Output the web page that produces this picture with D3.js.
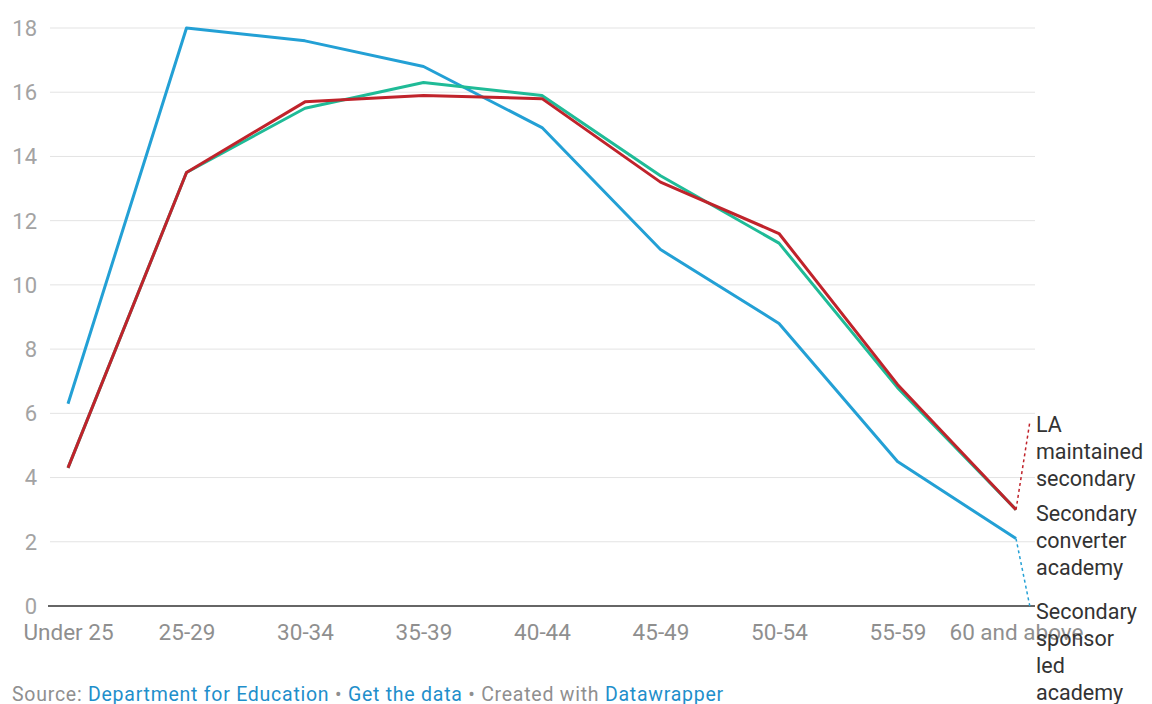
<!DOCTYPE html>
<html>
<head>
<meta charset="utf-8">
<script src="https://cdn.jsdelivr.net/npm/d3@7"></script>
<style>
  html, body { margin: 0; padding: 0; background: #fff; }
  svg { display: block; font-family: Roboto, "Noto Sans", sans-serif; }
</style>
</head>
<body>
<svg id="chart" width="1152" height="704"></svg>
<script>
// Age bands on the x axis
const ageBands = ["Under 25", "25-29", "30-34", "35-39", "40-44", "45-49", "50-54", "55-59", "60 and above"];
// Share of teachers (%) in each age band, by school type
const sponsorLed = [6.3, 18.0, 17.6, 16.8, 14.9, 11.1, 8.8, 4.5, 2.1];
const converter = [4.3, 13.5, 15.5, 16.3, 15.9, 13.4, 11.3, 6.8, 3.0];
const laMaintained = [4.3, 13.5, 15.7, 15.9, 15.8, 13.2, 11.6, 6.9, 3.0];
const yTicks = [0, 2, 4, 6, 8, 10, 12, 14, 16, 18];

const seriesList = [
  { name: ["Secondary", "sponsor", "led", "academy"], values: sponsorLed, color: "#23a0d5" },
  { name: ["Secondary", "converter", "academy"], values: converter, color: "#1fbb97" },
  { name: ["LA", "maintained", "secondary"], values: laMaintained, color: "#c0232b" }
];

const svg = d3.select("#chart");
const x = d3.scalePoint().domain(ageBands).range([68, 1016]);
const y = d3.scaleLinear().domain([0, 18]).range([606, 28]);

// Gridlines and y tick labels
const grid = svg.append("g");
grid.selectAll("line").data(yTicks.filter(d => d > 0)).join("line")
  .attr("x1", 50).attr("x2", 1035)
  .attr("y1", d => y(d)).attr("y2", d => y(d))
  .attr("stroke", "#e3e3e3").attr("stroke-width", 1);
grid.selectAll("text").data(yTicks).join("text")
  .attr("x", 37).attr("y", d => y(d)).attr("dy", "0.36em")
  .attr("text-anchor", "end")
  .attr("fill", "#a3a3a3").attr("font-size", 22)
  .text(d => d);

// Baseline
svg.append("line").attr("x1", 48).attr("x2", 1035)
  .attr("y1", y(0)).attr("y2", y(0))
  .attr("stroke", "#333").attr("stroke-width", 1.5);

// X axis labels
const xAxis = d3.axisBottom(x).tickSize(0).tickPadding(0);
const gx = svg.append("g").attr("transform", `translate(0,${y(0)})`).call(xAxis);
gx.select(".domain").remove();
gx.selectAll("text").attr("fill", "#8f8f8f").attr("font-size", 22.5)
  .attr("font-family", "Roboto, sans-serif")
  .attr("dy", null).attr("y", 34);

// Series lines
const line = d3.line().x((d, i) => x(ageBands[i])).y(d => y(d));
svg.append("g").selectAll("path").data(seriesList).join("path")
  .attr("d", d => line(d.values))
  .attr("fill", "none")
  .attr("stroke", d => d.color)
  .attr("stroke-width", 3)
  .attr("stroke-linejoin", "round");

// Direct labels at the right end, with dotted leaders where they are offset
const labelX = 1036;
const lastX = x(ageBands[ageBands.length - 1]);
const leaders = [
  { from: laMaintained[8], toY: 421, color: "#c0232b" },
  { from: sponsorLed[8], toY: 607, color: "#23a0d5" }
];
svg.append("g").selectAll("line").data(leaders).join("line")
  .attr("x1", lastX).attr("y1", d => y(d.from))
  .attr("x2", 1030).attr("y2", d => d.toY)
  .attr("stroke", d => d.color).attr("stroke-width", 1.5)
  .attr("stroke-dasharray", "3,3");

const labelStarts = [619, 521, 432];
seriesList.forEach((s, k) => {
  const t = svg.append("text").attr("x", labelX).attr("y", labelStarts[k])
    .attr("fill", "#333").attr("font-size", 21.5);
  s.name.forEach((w, j) => {
    t.append("tspan").attr("x", labelX).attr("dy", j === 0 ? 0 : 27).text(w);
  });
});

// Footer
const foot = svg.append("text").attr("x", 12).attr("y", 701)
  .attr("font-size", 19.5).attr("letter-spacing", 0.75).attr("fill", "#8f8f8f");
foot.append("tspan").text("Source: ");
foot.append("tspan").attr("fill", "#1f8fcb").text("Department for Education");
foot.append("tspan").text(" • ");
foot.append("tspan").attr("fill", "#1f8fcb").text("Get the data");
foot.append("tspan").text(" • Created with ");
foot.append("tspan").attr("fill", "#1f8fcb").text("Datawrapper");
</script>
</body>
</html>
